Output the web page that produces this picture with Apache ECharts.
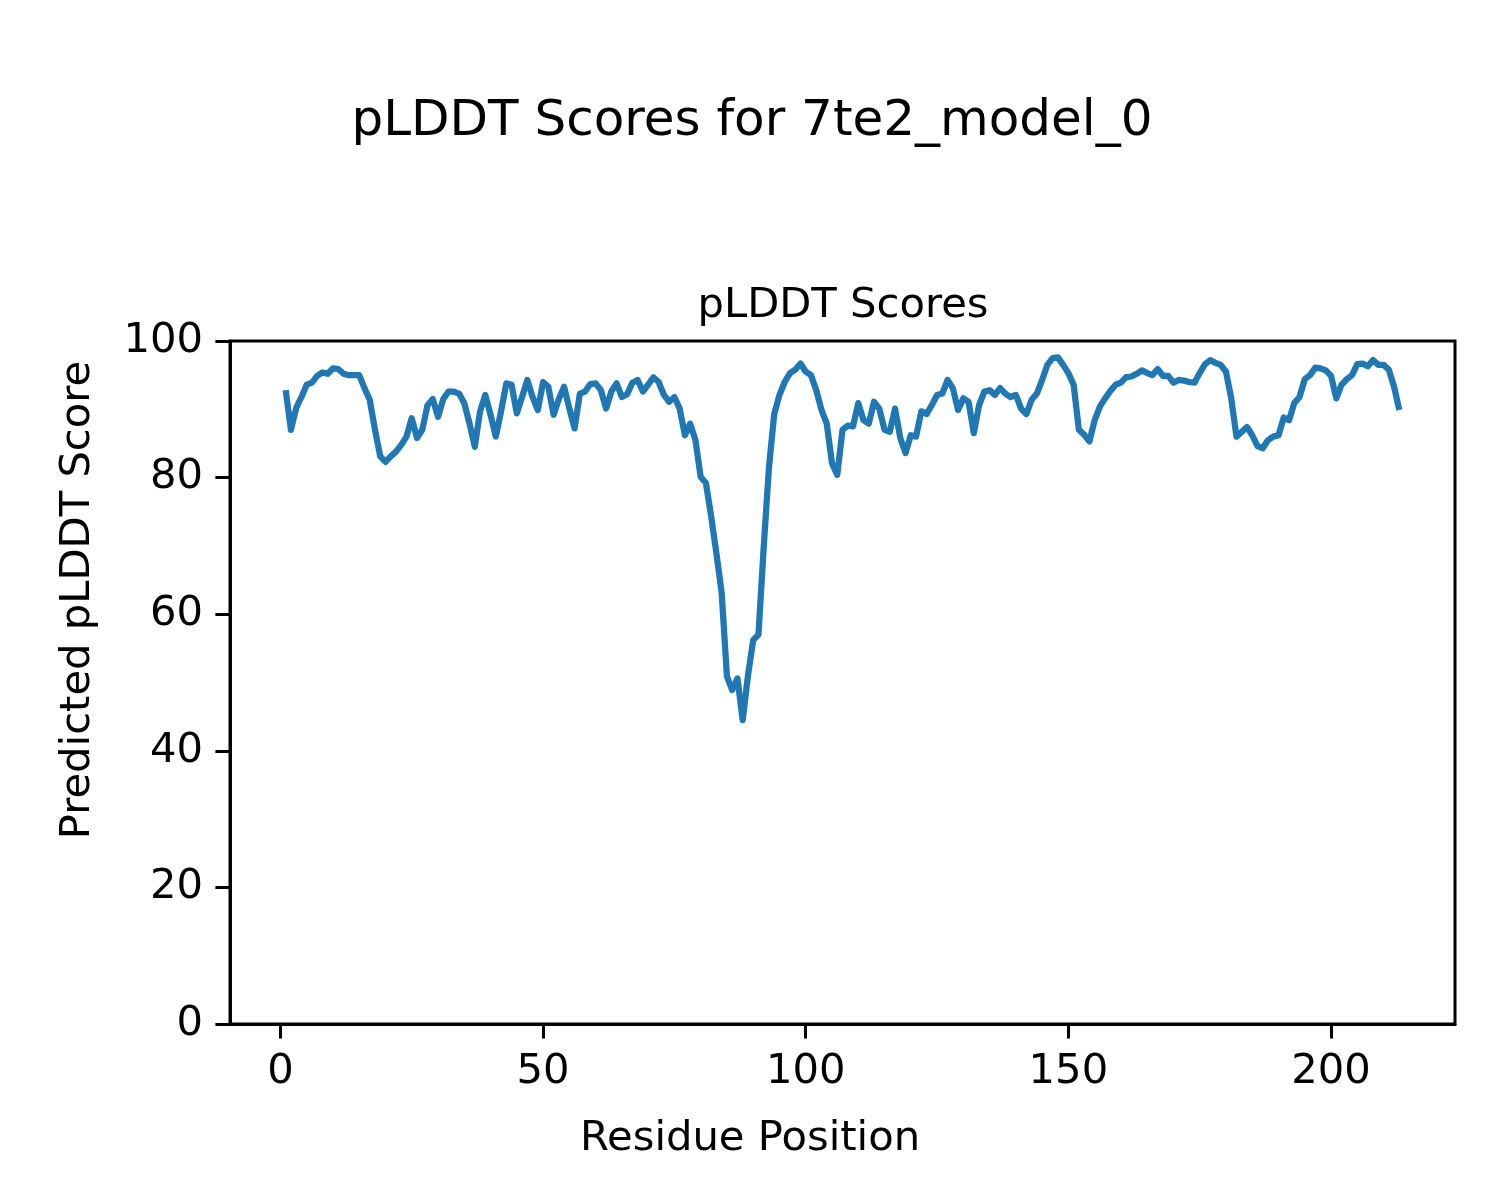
<!DOCTYPE html>
<html>
<head>
<meta charset="utf-8">
<script src="https://cdn.jsdelivr.net/npm/echarts@6/dist/echarts.min.js"></script>
<style>
html,body{margin:0;padding:0;background:#fff;}
#chart{width:1500px;height:1200px;}
</style>
</head>
<body>
<div id="chart"></div>
<script>
const suptitle = "pLDDT Scores for 7te2_model_0";
const axesTitle = "pLDDT Scores";
const xLabel = "Residue Position";
const yLabel = "Predicted pLDDT Score";
const xTicks = [0, 50, 100, 150, 200];
const yTicks = [0, 20, 40, 60, 80, 100];
const firstResidue = 1;
const plddt = [
  92.8, 87.0, 90.2, 91.8, 93.6, 93.9, 94.9, 95.4, 95.2, 96.0,
  95.9, 95.2, 95.0, 95.0, 95.0, 93.1, 91.4, 87.0, 83.1, 82.3,
  83.1, 83.8, 84.8, 86.0, 88.7, 85.8, 87.0, 90.6, 91.5, 88.9,
  91.5, 92.6, 92.6, 92.3, 90.9, 87.9, 84.5, 89.7, 92.1, 89.2,
  86.0, 89.7, 93.8, 93.6, 89.4, 91.8, 94.3, 91.8, 89.9, 94.0,
  93.3, 89.2, 91.5, 93.3, 90.1, 87.2, 92.3, 92.6, 93.7, 93.8,
  92.8, 90.1, 92.6, 93.8, 91.8, 92.2, 93.9, 94.3, 92.6, 93.6,
  94.7, 94.0, 92.1, 91.1, 91.8, 90.1, 86.2, 87.9, 85.5, 80.1,
  79.2, 74.3, 68.9, 63.1, 50.9, 48.9, 50.6, 44.5, 51.0, 56.2,
  57.0, 69.8, 81.5, 89.3, 92.1, 94.0, 95.3, 95.8, 96.7, 95.5,
  95.0, 92.8, 89.9, 87.9, 82.1, 80.4, 87.0, 87.6, 87.5, 90.9,
  88.4, 87.9, 91.1, 90.1, 87.0, 86.7, 90.1, 85.8, 83.6, 86.2,
  86.0, 89.7, 89.3, 90.6, 92.1, 92.3, 94.3, 93.1, 89.9, 91.6,
  91.1, 86.5, 90.6, 92.6, 92.8, 92.1, 93.1, 92.3, 91.8, 92.1,
  90.1, 89.3, 91.4, 92.3, 94.3, 96.5, 97.5, 97.6, 96.5, 95.3,
  93.6, 87.0, 86.3, 85.3, 88.4, 90.4, 91.6, 92.7, 93.6, 93.9,
  94.7, 94.8, 95.2, 95.7, 95.3, 95.0, 95.9, 94.9, 94.9, 93.9,
  94.3, 94.2, 94.0, 93.9, 95.3, 96.6, 97.2, 96.8, 96.5, 95.5,
  91.6, 86.0, 86.7, 87.4, 86.2, 84.6, 84.3, 85.5, 86.0, 86.2,
  88.8, 88.4, 90.9, 91.8, 94.4, 95.0, 96.1, 96.0, 95.7, 94.9,
  91.6, 93.6, 94.4, 95.0, 96.6, 96.7, 96.3, 97.2, 96.5, 96.5,
  95.8, 93.3, 89.9
];

const points = plddt.map((v, i) => [firstResidue + i, v]);
const n = plddt.length;
const lastResidue = firstResidue + n - 1;
const pad = 0.05 * (lastResidue - firstResidue);

const FONT = "DejaVu Sans";
const chart = echarts.init(document.getElementById('chart'), null, {renderer: 'canvas'});
chart.setOption({
  animation: false,
  backgroundColor: '#ffffff',
  title: [
    {
      text: suptitle, left: 747, top: 92, textAlign: 'center',
      textStyle: {fontFamily: FONT, fontSize: 50, fontWeight: 'normal', color: '#000'}
    },
    {
      text: axesTitle, left: 838, top: 280, textAlign: 'center',
      textStyle: {fontFamily: FONT, fontSize: 41.7, fontWeight: 'normal', color: '#000'}
    }
  ],
  graphic: [
    {
      type: 'text', x: 750, y: 1139,
      style: {text: xLabel, font: '41.7px "DejaVu Sans"', fill: '#000', align: 'center', verticalAlign: 'middle'}
    },
    {
      type: 'text', x: 78, y: 600, rotation: Math.PI / 2,
      style: {text: yLabel, font: '41.7px "DejaVu Sans"', fill: '#000', align: 'center', verticalAlign: 'middle'}
    }
  ],
  grid: {
    left: 230, right: 45, top: 341, bottom: 176,
    show: true, borderColor: '#000', borderWidth: 3, backgroundColor: 'transparent'
  },
  xAxis: {
    type: 'value',
    min: firstResidue - pad,
    max: lastResidue + pad,
    axisLine: {show: true, onZero: false, lineStyle: {color: '#000', width: 3}},
    axisTick: {show: true, length: 14.6, customValues: xTicks, lineStyle: {color: '#000', width: 3}},
    axisLabel: {customValues: xTicks, margin: 27, fontFamily: FONT, fontSize: 41.7, color: '#000'},
    splitLine: {show: false}
  },
  yAxis: {
    type: 'value',
    min: yTicks[0],
    max: yTicks[yTicks.length - 1],
    interval: 20,
    axisLine: {show: true, onZero: false, lineStyle: {color: '#000', width: 3}},
    axisTick: {show: true, length: 14.6, lineStyle: {color: '#000', width: 3}},
    axisLabel: {margin: 27, fontFamily: FONT, fontSize: 41.7, color: '#000'},
    splitLine: {show: false}
  },
  series: [{
    type: 'line',
    data: points,
    showSymbol: false,
    symbol: 'none',
    lineStyle: {color: '#1f77b4', width: 6.25, join: 'round', cap: 'butt'},
    itemStyle: {color: '#1f77b4'}
  }]
});
</script>
</body>
</html>
